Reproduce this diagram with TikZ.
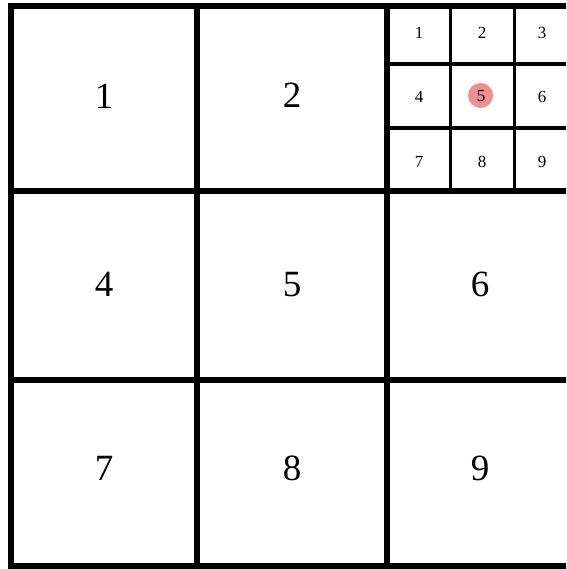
\documentclass[tikz,border=0pt]{standalone}
\usepackage{fontspec}
\setmainfont{Liberation Serif}
\definecolor{dotpink}{RGB}{241,142,146}
\begin{document}
\begin{tikzpicture}[x=1pt,y=1pt,
  thick line/.style={line width=6pt,line cap=rect},
  thin line/.style={line width=3.5pt},
  bignum/.style={font=\fontsize{37}{37}\selectfont,inner sep=0pt,text depth=0pt},
  smallnum/.style={font=\fontsize{17}{17}\selectfont,inner sep=0pt,text depth=0pt}]
\useasboundingbox (0,0) rectangle (566,569);
\clip (0,0) rectangle (566,569);
\fill[white] (0,0) rectangle (566,569);
% sub-grid thin lines
\draw[thin line] (450.5,563) -- (450.5,378);
\draw[thin line] (514.5,563) -- (514.5,378);
\draw[thin line] (387,505) -- (600,505);
\draw[thin line] (387,441) -- (600,441);
% main grid thick lines
\draw[thick line] (11,3) rectangle (576,563);
\draw[thick line] (197,3) -- (197,563);
\draw[thick line] (387,3) -- (387,563);
\draw[thick line] (11,378) -- (576,378);
\draw[thick line] (11,189) -- (576,189);
% highlight
\fill[dotpink] (480.5,473.5) circle[radius=12.5];
% big numbers
\node[bignum] (b1) at (104,473) {1};
\node[bignum] (b2) at (292,474) {2};
\node[bignum] (b4) at (104,285) {4};
\node[bignum] (b5) at (292,285) {5};
\node[bignum] (b6) at (480,285) {6};
\node[bignum] (b7) at (104,101) {7};
\node[bignum] (b8) at (292,101) {8};
\node[bignum] (b9) at (480,101) {9};
% small numbers
\node[smallnum] (s1) at (419,536) {1};
\node[smallnum] (s2) at (482,536) {2};
\node[smallnum] (s3) at (542,536) {3};
\node[smallnum] (s4) at (419,472) {4};
\node[smallnum] (s5) at (481,473) {5};
\node[smallnum] (s6) at (542,472) {6};
\node[smallnum] (s7) at (419,407) {7};
\node[smallnum] (s8) at (482,407) {8};
\node[smallnum] (s9) at (542,407) {9};
\end{tikzpicture}
\end{document}
